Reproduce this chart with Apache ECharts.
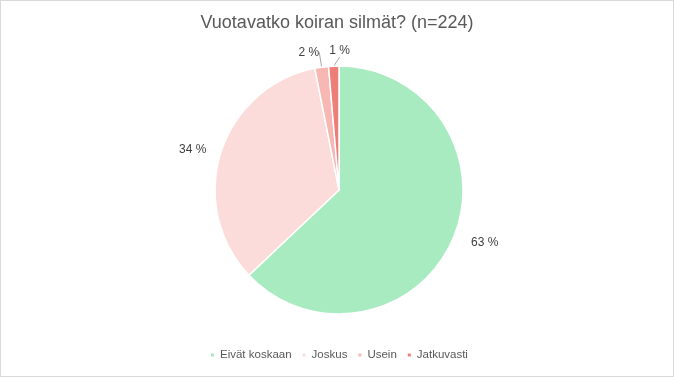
<!DOCTYPE html>
<html><head><meta charset="utf-8">
<script src="https://cdn.jsdelivr.net/npm/echarts@6/dist/echarts.min.js"></script>
<style>html,body{margin:0;padding:0;background:#fff}#c{width:672px;height:375px;border:1px solid #d9d9d9}</style>
</head><body><div id="c"></div>
<script>
const categories = ['Eivät koskaan', 'Joskus', 'Usein', 'Jatkuvasti'];
const counts = [141, 76, 4, 3];
const labels = ['63 %', '34 %', '2 %', '1 %'];
const colors = ['#a9ebc1', '#fcdcda', '#f7b7b3', '#ee7e78'];
const chart = echarts.init(document.getElementById('c'));
const font = '"Liberation Sans", Arial, sans-serif';
chart.setOption({
  animation: false,
  title: { text: 'Vuotavatko koiran silmät? (n=224)', left: 'center', top: 8,
    textStyle: { fontFamily: font, fontSize: 18, fontWeight: 'normal', color: '#595959' } },
  legend: { bottom: 10, left: 203, itemWidth: 5, itemHeight: 5, itemGap: 9, icon: 'rect',
    textStyle: { fontFamily: font, fontSize: 11.5, color: '#595959' }, data: categories },
  series: [{
    type: 'pie', center: [338, 189], radius: 124, startAngle: 90, clockwise: true,
    avoidLabelOverlap: false,
    itemStyle: { borderColor: '#fff', borderWidth: 1.5 },
    label: { show: true, position: 'outside', fontFamily: font, fontSize: 12, color: '#404040',
      formatter: p => labels[p.dataIndex] },
    labelLine: { show: true, length: 12, length2: 0, lineStyle: { color: '#a6a6a6', width: 1 } },
    labelLayout: function (p) {
      if (p.dataIndex < 2 || !p.labelLinePoints) return {};
      const pts = p.labelLinePoints;
      const end = pts[pts.length - 1];
      return { x: end[0] + (p.dataIndex === 2 ? -1 : -4), y: end[1] + 1,
        align: p.dataIndex === 2 ? 'right' : 'left', verticalAlign: 'bottom', moveOverlap: null };
    },
    data: categories.map((n, i) => ({
      name: n, value: counts[i], itemStyle: { color: colors[i] },
      labelLine: i === 0 ? { show: false, length: 10, length2: 4 }
        : i === 1 ? { show: false, length: 10, length2: 0 }
        : { show: true, length: 10, length2: 0 }
    }))
  }]
});
</script></body></html>
